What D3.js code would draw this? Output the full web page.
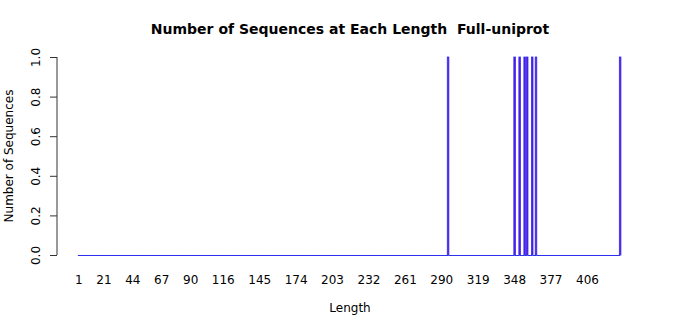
<!DOCTYPE html>
<html>
<head>
<meta charset="utf-8">
<script src="https://cdn.jsdelivr.net/npm/d3@7"></script>
<style>
  body { margin: 0; background: #fff; }
  text { font-family: "DejaVu Sans", sans-serif; fill: #000; }
</style>
</head>
<body>
<div id="chart"></div>
<script>
// sequence lengths observed (one sequence each); all other lengths 1..maxLength are 0
const maxLength = 432;
const observedLengths = [295, 348, 352, 356, 358, 362, 365, 432];
const observedCounts = [1, 1, 1, 1, 1, 1, 1, 1];
const xTickLabels = [1, 21, 44, 67, 90, 116, 145, 174, 203, 232, 261, 290, 319, 348, 377, 406];
const yTicks = [0, 0.2, 0.4, 0.6, 0.8, 1.0];

const lengths = d3.range(1, maxLength + 1);
const countByLength = new Map(observedLengths.map((l, i) => [l, observedCounts[i]]));
const bars = lengths.map(l => ({ length: l, count: countByLength.get(l) || 0 }));

const width = 700, height = 315;

const svg = d3.select("#chart")
  .append("svg")
  .attr("width", width)
  .attr("height", height);

// band scale, R barplot style (width 1, space 0.2)
const pitch = (620 - 79) / (maxLength - 1);
const x = d3.scaleBand()
  .domain(lengths)
  .range([79 - pitch / 2, 620 + pitch / 2])
  .paddingInner(0.2)
  .paddingOuter(0);

const y = d3.scaleLinear()
  .domain([0, 1])
  .range([255, 57]);

const barColor = "#6a10d8";
const borderColor = "#3030f0";

// zero-count bars collapse into a line on the baseline
svg.append("g")
  .selectAll("line")
  .data(bars.filter(d => d.count === 0))
  .join("line")
  .attr("x1", d => x(d.length) - 0.5)
  .attr("x2", d => x(d.length) + x.bandwidth() + 0.8)
  .attr("y1", y(0) + 0.5)
  .attr("y2", y(0) + 0.5)
  .attr("stroke", borderColor)
  .attr("stroke-width", 1);

// non-zero bars
svg.append("g")
  .selectAll("rect")
  .data(bars.filter(d => d.count > 0))
  .join("rect")
  .attr("x", d => x(d.length) - 0.3)
  .attr("y", d => y(d.count))
  .attr("width", 1.6)
  .attr("height", d => y(0) - y(d.count))
  .attr("fill", barColor)
  .attr("stroke", borderColor)
  .attr("stroke-width", 0.8);

// x tick labels (no tick marks, as in barplot)
svg.append("g")
  .selectAll("text")
  .data(xTickLabels)
  .join("text")
  .attr("x", d => x(d) + x.bandwidth() / 2)
  .attr("y", 284)
  .attr("text-anchor", "middle")
  .style("font-size", "12px")
  .text(d => d);

// y axis
const yAxis = svg.append("g")
  .attr("transform", "translate(57,0)")
  .call(d3.axisLeft(y).tickValues(yTicks).tickSize(7).tickFormat(d3.format(".1f")));
yAxis.select(".domain")
  .attr("d", `M0,${y(0)}V${y(1)}`)
  .attr("stroke", "#333");
yAxis.selectAll(".tick line").attr("stroke", "#333");
yAxis.selectAll(".tick text")
  .attr("x", null).attr("dy", null)
  .attr("transform", "translate(-17,0) rotate(-90)")
  .attr("text-anchor", "middle")
  .style("font-family", "DejaVu Sans, sans-serif")
  .style("font-size", "12px")
  .attr("fill", "#000");

// axis titles
svg.append("text")
  .attr("transform", `translate(13,${(y(0) + y(1)) / 2}) rotate(-90)`)
  .attr("text-anchor", "middle")
  .style("font-size", "12px")
  .text("Number of Sequences");

svg.append("text")
  .attr("x", 350)
  .attr("y", 312)
  .attr("text-anchor", "middle")
  .style("font-size", "12px")
  .text("Length");

// title
svg.append("text")
  .attr("x", 350)
  .attr("y", 34)
  .attr("text-anchor", "middle")
  .style("font-size", "14px")
  .style("font-weight", "bold")
  .style("white-space", "pre")
  .text("Number of Sequences at Each Length  Full-uniprot");
</script>
</body>
</html>
